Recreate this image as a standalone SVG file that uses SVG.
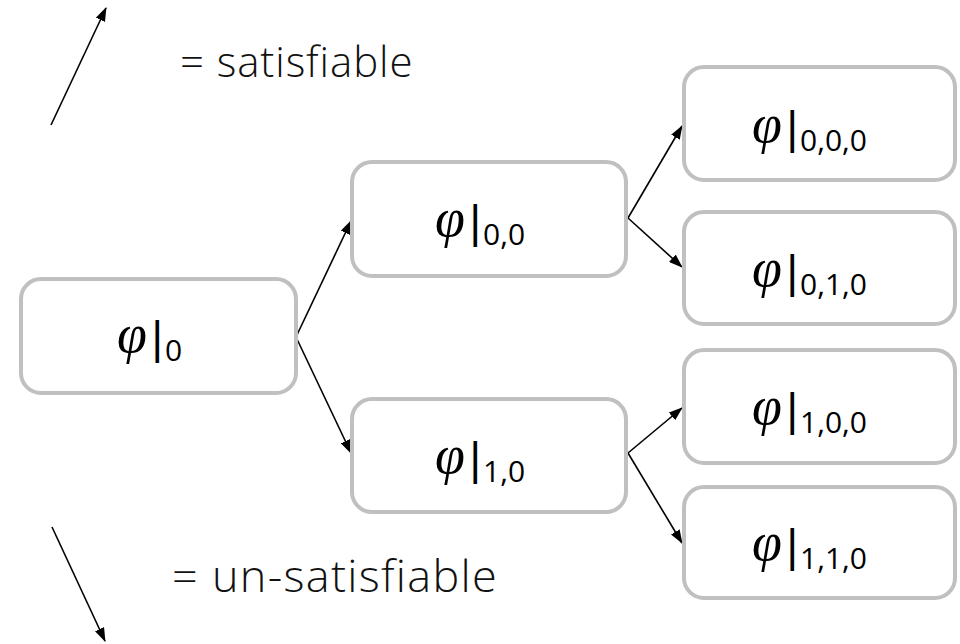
<svg xmlns="http://www.w3.org/2000/svg" width="960" height="644" viewBox="0 0 960 644">
<defs>
<marker id="ah" markerWidth="14" markerHeight="10" refX="13" refY="5" orient="auto" markerUnits="userSpaceOnUse">
<path d="M0,0 L14,5 L0,10 Z" fill="#000"/>
</marker>
<style>
.box{fill:#fff;stroke:#c0c0c0;stroke-width:4}
.edge{stroke:#000;stroke-width:1.6;fill:none;marker-end:url(#ah)}
.phi{font-family:"Liberation Serif",serif;font-style:italic;font-size:54px}
.bar{font-family:"DejaVu Sans",sans-serif;font-size:43px}
.sub{font-family:"Open Sans",sans-serif;font-size:30px}
.leg{font-family:"Open Sans",sans-serif;font-weight:300;fill:#111}
</style>
</defs>
<rect width="960" height="644" fill="#fff"/>
<g id="legend">
<line class="edge" x1="51" y1="125" x2="106" y2="8"/>
<text class="leg" x="180" y="77" font-size="42" letter-spacing="0.9">= satisfiable</text>
<line class="edge" x1="52" y1="527" x2="105" y2="641"/>
<text class="leg" x="172" y="592" font-size="45" letter-spacing="1.3">= un-satisfiable</text>
</g>
<g id="connectors">
<line class="edge" x1="296" y1="337" x2="351" y2="221"/>
<line class="edge" x1="296" y1="337" x2="351" y2="453"/>
<line class="edge" x1="628" y1="218" x2="682" y2="126"/>
<line class="edge" x1="628" y1="218" x2="682" y2="267"/>
<line class="edge" x1="628" y1="453" x2="682" y2="408"/>
<line class="edge" x1="628" y1="453" x2="682" y2="543"/>
</g>
<g id="n0">
<rect class="box" x="21" y="279" width="275" height="114" rx="20"/>
<text class="phi" x="117" y="352">φ</text><text class="bar" x="150" y="353">|</text><text class="sub" x="165" y="361">0</text>
</g>
<g id="n00">
<rect class="box" x="352" y="162" width="274" height="114" rx="20"/>
<text class="phi" x="435" y="236">φ</text><text class="bar" x="468" y="237">|</text><text class="sub" x="483" y="245">0,0</text>
</g>
<g id="n10">
<rect class="box" x="352" y="399" width="274" height="113" rx="20"/>
<text class="phi" x="435" y="473">φ</text><text class="bar" x="468" y="474">|</text><text class="sub" x="483" y="482">1,0</text>
</g>
<g id="n000">
<rect class="box" x="684" y="67" width="271" height="113" rx="20"/>
<text class="phi" x="752" y="142">φ</text><text class="bar" x="785" y="143">|</text><text class="sub" x="800" y="151">0,0,0</text>
</g>
<g id="n010">
<rect class="box" x="684" y="212" width="271" height="112" rx="20"/>
<text class="phi" x="752" y="286">φ</text><text class="bar" x="785" y="287">|</text><text class="sub" x="800" y="295">0,1,0</text>
</g>
<g id="n100">
<rect class="box" x="684" y="350" width="271" height="113" rx="20"/>
<text class="phi" x="752" y="424">φ</text><text class="bar" x="785" y="425">|</text><text class="sub" x="800" y="433">1,0,0</text>
</g>
<g id="n110">
<rect class="box" x="684" y="487" width="271" height="111" rx="20"/>
<text class="phi" x="752" y="560">φ</text><text class="bar" x="785" y="561">|</text><text class="sub" x="800" y="569">1,1,0</text>
</g>
</svg>
